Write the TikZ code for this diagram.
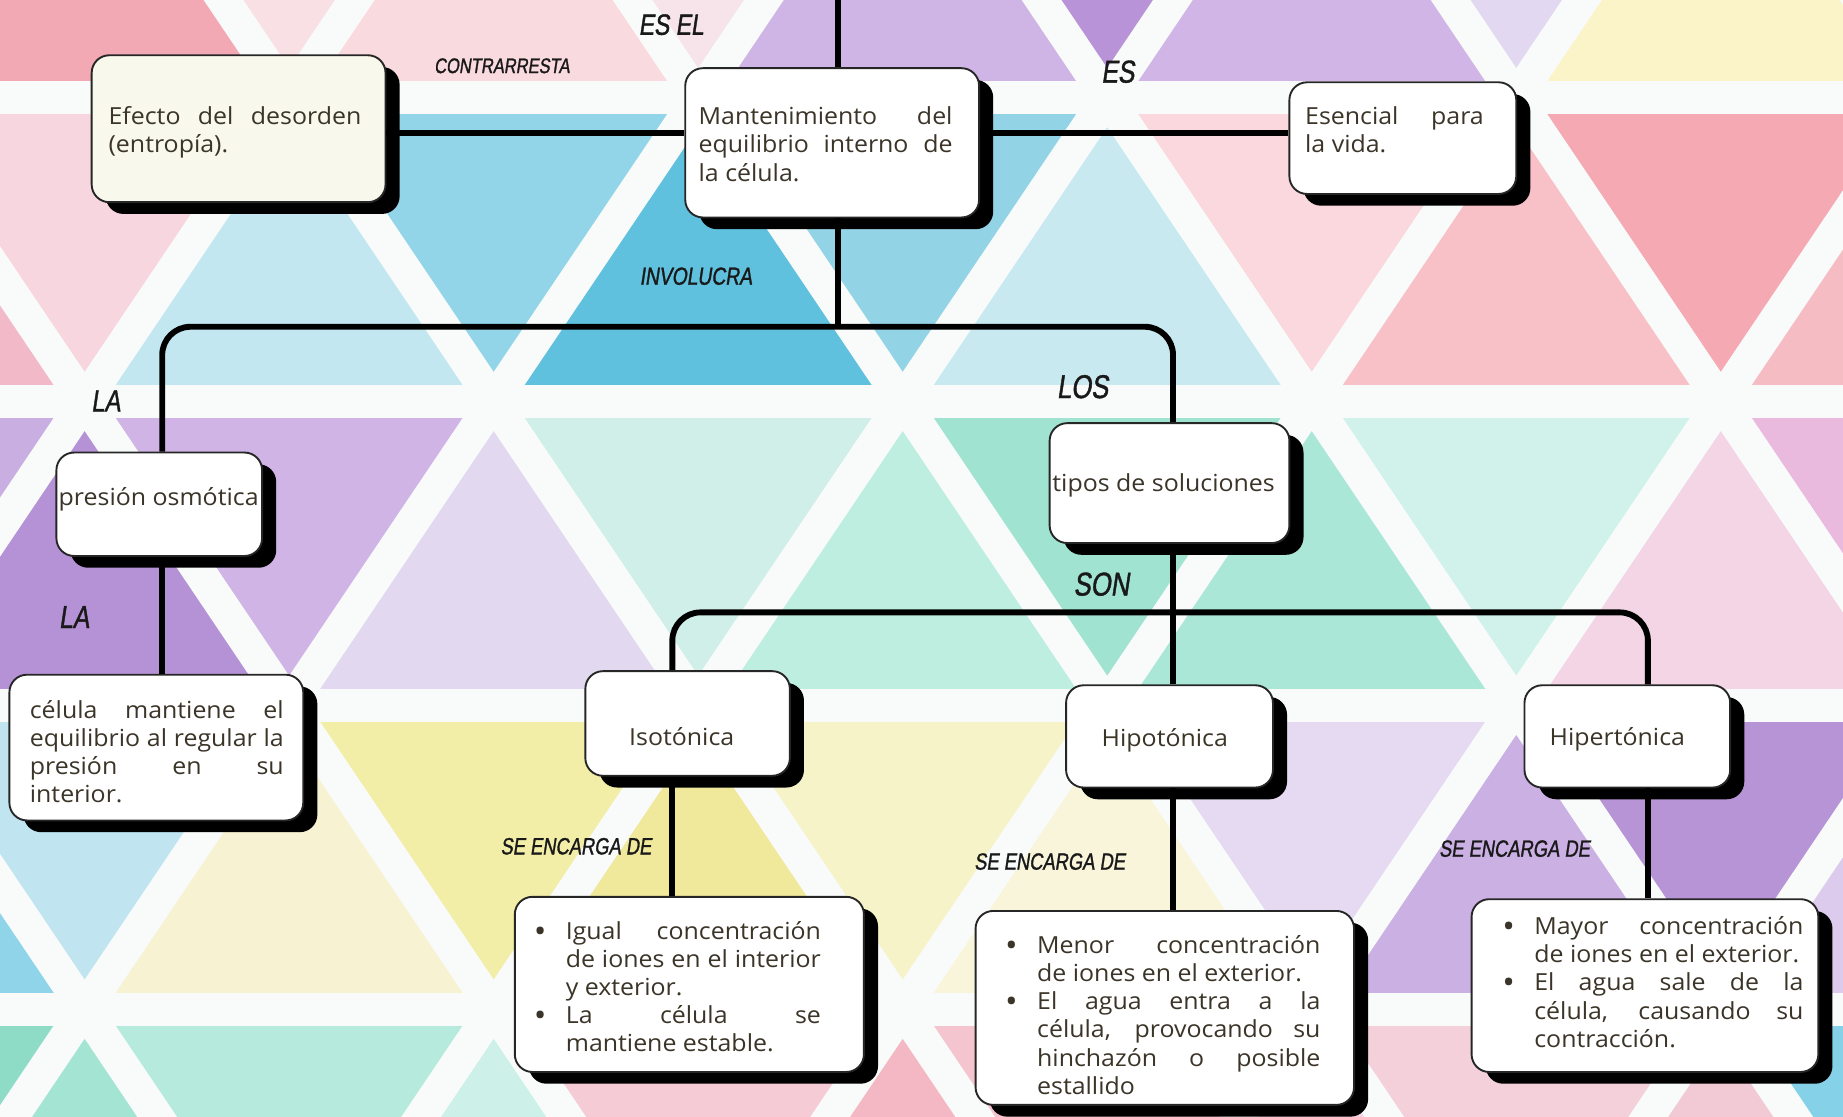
\documentclass[tikz,border=0pt]{standalone}
\usepackage{fontspec}
\setmainfont[FakeStretch=1.06]{Open Sans}
\newfontfamily\lbl[FakeStretch=0.78,FakeSlant=0.15,FakeBold=1.2]{Liberation Sans}
\usetikzlibrary{shadows}
\definecolor{txtc}{HTML}{3B3428}
\definecolor{stripe}{HTML}{F8FBFA}
\definecolor{cream}{HTML}{F8F8EC}
\newcommand\uptri[3]{\definecolor{tc}{HTML}{#3}\fill[tc] ({#2},{-175.5+258.5*#1}) -- ({#2-174},{83+258.5*#1}) -- ({#2+174},{83+258.5*#1}) -- cycle;}
\newcommand\dntri[3]{\definecolor{tc}{HTML}{#3}\fill[tc] ({#2-174},{-175.5+258.5*#1}) -- ({#2+174},{-175.5+258.5*#1}) -- ({#2},{83+258.5*#1}) -- cycle;}
\newcommand\jl[1]{\makebox[\linewidth][s]{#1}}
\newcommand\bul{\leavevmode\llap{\raisebox{-1.3pt}{\scalebox{1.35}{\textbullet}}\hspace{8.2pt}}}
\begin{document}
\begin{tikzpicture}[x=0.5pt,y=-0.5pt,
  box/.style={draw=black!85, line width=0.8pt, rounded corners=7.5pt, fill=white, inner sep=0pt,
    drop shadow={shadow xshift=6pt, shadow yshift=-5pt, fill=black, opacity=1}},
  conn/.style={line width=2.5pt, black},
  txt/.style={inner sep=0pt, anchor=base west, text=txtc, font=\fontsize{10}{12}\selectfont},
  ctxt/.style={inner sep=0pt, anchor=base, text=txtc, font=\fontsize{10}{12}\selectfont},
  lab/.style={inner sep=0pt, text=black!90, font=\lbl\fontsize{#1}{#1}\selectfont},
  stripeln/.style={line width=14pt, stripe}]
\useasboundingbox (0,0) rectangle (1568,950);
\begin{scope}
\clip (0,0) rectangle (1568,950);
\fill[white] (0,0) rectangle (1568,950);
% row 0
\uptri{0}{72}{F3A9B4}\dntri{0}{246}{F9E0E4}\uptri{0}{420}{F9DADF}\dntri{0}{594}{F7E4EA}
\uptri{0}{768}{CFB5E5}\dntri{0}{942}{B993D8}\uptri{0}{1116}{D0B5E6}\dntri{0}{1290}{E3D8F1}
\uptri{0}{1464}{FAF4C8}
% row 1
\uptri{1}{-102}{F2BAC8}\dntri{1}{72}{F8D6E0}\uptri{1}{246}{C2E7F0}\dntri{1}{420}{92D5E8}
\uptri{1}{594}{5FC1DE}\dntri{1}{768}{93D3E6}\uptri{1}{942}{C9E9F1}\dntri{1}{1116}{FAD8DE}
\uptri{1}{1290}{F8C1C7}\dntri{1}{1464}{F5A9B3}\uptri{1}{1638}{F6BCC4}
% row 2
\dntri{2}{-102}{C9AEE2}\uptri{2}{72}{B592D5}\dntri{2}{246}{CFB4E5}\uptri{2}{420}{E2D8F0}
\dntri{2}{594}{D0EFE8}\uptri{2}{768}{BDEEE0}\dntri{2}{942}{9FE3D0}\uptri{2}{1116}{ABE7D7}
\dntri{2}{1290}{D0F2EA}\uptri{2}{1464}{F3D5E6}\dntri{2}{1638}{EAB9DE}
% row 3
\uptri{3}{-102}{8FD4E8}\dntri{3}{72}{C0E4F0}\uptri{3}{246}{F7F3D2}\dntri{3}{420}{F2EEA8}
\uptri{3}{594}{F0E99C}\dntri{3}{768}{F6F3C8}\uptri{3}{942}{F8F5DA}\dntri{3}{1116}{E5DAF1}
\uptri{3}{1290}{CAB0E3}\dntri{3}{1464}{B794D6}\uptri{3}{1638}{DCCBED}
% row 4
\dntri{4}{-102}{8EDCC6}\uptri{4}{72}{A4E4D3}\dntri{4}{246}{B5EADC}\uptri{4}{420}{CDF0E8}
\dntri{4}{594}{F5CBD5}\uptri{4}{768}{F3B8C3}\dntri{4}{942}{F4C5CF}\uptri{4}{1116}{F2D4E2}
\dntri{4}{1290}{F3D0DA}\uptri{4}{1464}{F2CAD6}\dntri{4}{1638}{85D2E8}
% white stripes
\foreach \j in {-3,...,6} \draw[stripeln] ({190.13+348*\j-13.46},-20) -- ({190.13+348*\j+652.9},970);
\foreach \j in {-1,...,7} \draw[stripeln] ({301.87+348*\j+13.46},-20) -- ({301.87+348*\j-652.9},970);
\foreach \yy in {83,341.5,600,858.5} \draw[stripeln] (-20,\yy) -- (1600,\yy);
\end{scope}

% boxes
\node[box, fill=cream, minimum width=125pt, minimum height=62.5pt] (e) at (203,109.5) {};
\node[box, minimum width=125pt, minimum height=63.5pt] (m) at (708,121.5) {};
\node[box, minimum width=96.5pt, minimum height=47.5pt] (s) at (1193.5,117.5) {};
\node[box, minimum width=87.5pt, minimum height=44pt] (p) at (135.5,429) {};
\node[box, minimum width=102pt, minimum height=51pt] (t) at (995,411) {};
\node[box, minimum width=125pt, minimum height=62pt] (c) at (133,636) {};
\node[box, minimum width=87pt, minimum height=44.5pt] (iso) at (585,615.5) {};
\node[box, minimum width=88pt, minimum height=43.5pt] (hipo) at (995,626.5) {};
\node[box, minimum width=87.5pt, minimum height=43.5pt] (hiper) at (1384.5,626.5) {};
\node[box, minimum width=148.5pt, minimum height=74.5pt] (d1) at (586.5,837.5) {};
\node[box, minimum width=161pt, minimum height=82.5pt] (d2) at (991,857.5) {};
\node[box, minimum width=147.5pt, minimum height=73.5pt] (d3) at (1399.5,838.5) {};

% texts
\node[txt] (te) at (92,106) {\parbox[t]{107.5pt}{\jl{Efecto del desorden}\\(entropía).}};
\node[txt] (tm) at (594,106) {\parbox[t]{108pt}{\jl{Mantenimiento del}\\\jl{equilibrio interno de}\\la célula.}};
\node[txt] (ts) at (1110,106) {\parbox[t]{76pt}{\jl{Esencial para}\\la vida.}};
\node[ctxt] (tp) at (135,430) {presión osmótica};
\node[ctxt] (tt) at (990,418) {tipos de soluciones};
\node[txt] (tc) at (25,611) {\parbox[t]{108pt}{\jl{célula mantiene el}\\\jl{equilibrio al regular la}\\\jl{presión en su}\\interior.}};
\node[ctxt] (tiso) at (580,634) {Isotónica};
\node[ctxt] (thipo) at (991,635) {Hipotónica};
\node[ctxt] (thiper) at (1376,634) {Hipertónica};
\node[txt] (td1) at (481,799) {\parbox[t]{108.5pt}{\bul\jl{Igual concentración}\\\jl{de iones en el interior}\\y exterior.\\\bul\jl{La célula se}\\mantiene estable.}};
\node[txt] (td2) at (882,811) {\parbox[t]{120.5pt}{\bul\jl{Menor concentración}\\de iones en el exterior.\\\bul\jl{El agua entra a la}\\\jl{célula, provocando su}\\\jl{hinchazón o posible}\\estallido}};
\node[txt] (td3) at (1305,795) {\parbox[t]{114.5pt}{\bul\jl{Mayor concentración}\\de iones en el exterior.\\\bul\jl{El agua sale de la}\\\jl{célula, causando su}\\contracción.}};

% connectors
\coordinate (xm) at (713,0);
\coordinate (xl) at (138,0);
\coordinate (xt) at (998,0);
\coordinate (xi) at (572,0);
\coordinate (xh) at (1402,0);
\coordinate (yh) at (0,113);
\coordinate (bus1) at (713,278);
\coordinate (bus2) at (998,521);
\draw[conn] (xm) -- (xm |- m.north);
\draw[conn] (e.east |- yh) -- (m.west |- yh);
\draw[conn] (m.east |- yh) -- (s.west |- yh);
\draw[conn] (m.south -| xm) -- (bus1);
\draw[conn, rounded corners=12pt] (p.north -| xl) -- (xl |- bus1) -- (xt |- bus1) -- (t.north -| xt);
\draw[conn] (p.south -| xl) -- (c.north -| xl);
\draw[conn] (t.south -| xt) -- (hipo.north -| xt);
\draw[conn, rounded corners=12pt] (iso.north -| xi) -- (xi |- bus2) -- (xh |- bus2) -- (hiper.north -| xh);
\draw[conn] (iso.south -| xi) -- (d1.north -| xi);
\draw[conn] (hipo.south -| xt) -- (d2.north -| xt);
\draw[conn] (hiper.south -| xh) -- (d3.north -| xh);

% labels
\node[lab=12.5] (l1) at (571,21) {ES EL};
\node[lab=9] (l2) at (427,56) {CONTRARRESTA};
\node[lab=13.5] (l3) at (951,61) {ES};
\node[lab=10.5] (l4) at (592,235) {INVOLUCRA};
\node[lab=13] (l5) at (90,341) {LA};
\node[lab=14] (l6) at (921,329) {LOS};
\node[lab=13.5] (l7) at (63,525) {LA};
\node[lab=14] (l8) at (937,497) {SON};
\node[lab=10] (l9) at (490,720) {SE ENCARGA DE};
\node[lab=10] (l10) at (893,733) {SE ENCARGA DE};
\node[lab=10] (l11) at (1288.5,722) {SE ENCARGA DE};
\end{tikzpicture}
\end{document}
